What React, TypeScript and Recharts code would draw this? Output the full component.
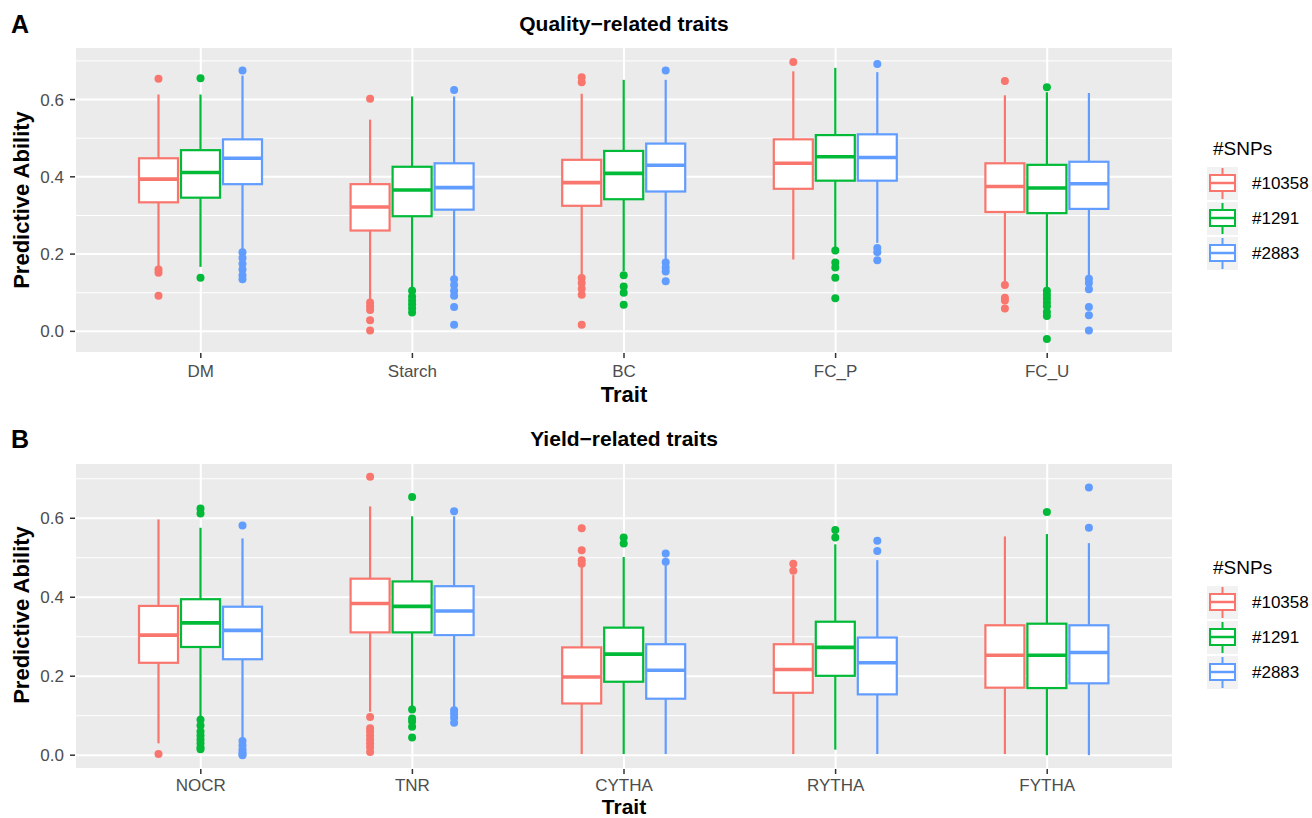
import React from "react";
import { ComposedChart, Bar, XAxis, YAxis, CartesianGrid } from "recharts";

const seriesNames = ["#10358", "#1291", "#2883"];
const seriesColors = ["#F8766D", "#00BA38", "#619CFF"];

// box stats per trait: [lower whisker, Q1, median, Q3, upper whisker]
const qualityTraits = ["DM", "Starch", "BC", "FC_P", "FC_U"];
const quality10358 = [
  [0.167, 0.334, 0.394, 0.448, 0.613],
  [0.079, 0.261, 0.322, 0.381, 0.548],
  [0.143, 0.325, 0.385, 0.444, 0.615],
  [0.186, 0.369, 0.435, 0.497, 0.673],
  [0.13, 0.309, 0.375, 0.435, 0.611],
];
const quality10358Out = [
  [0.654, 0.16, 0.152, 0.092],
  [0.602, 0.075, 0.065, 0.055, 0.029, 0.002],
  [0.658, 0.645, 0.138, 0.125, 0.11, 0.095, 0.017],
  [0.697],
  [0.648, 0.12, 0.087, 0.08, 0.059],
];
const quality1291 = [
  [0.167, 0.346, 0.411, 0.469, 0.613],
  [0.111, 0.298, 0.366, 0.426, 0.608],
  [0.156, 0.342, 0.409, 0.467, 0.651],
  [0.216, 0.39, 0.452, 0.508, 0.682],
  [0.113, 0.306, 0.371, 0.431, 0.619],
];
const quality1291Out = [
  [0.655, 0.139],
  [0.105, 0.09, 0.08, 0.07, 0.06, 0.049],
  [0.145, 0.116, 0.1, 0.069],
  [0.209, 0.178, 0.165, 0.139, 0.086],
  [0.632, 0.105, 0.095, 0.085, 0.075, 0.065, 0.05, 0.04, -0.02],
];
const quality2883 = [
  [0.212, 0.381, 0.448, 0.497, 0.662],
  [0.139, 0.315, 0.372, 0.435, 0.608],
  [0.186, 0.362, 0.43, 0.486, 0.651],
  [0.229, 0.39, 0.45, 0.51, 0.671],
  [0.143, 0.317, 0.382, 0.439, 0.617],
];
const quality2883Out = [
  [0.675, 0.205, 0.19, 0.175, 0.16, 0.145, 0.135],
  [0.625, 0.135, 0.12, 0.105, 0.092, 0.063, 0.017],
  [0.675, 0.178, 0.165, 0.155, 0.13],
  [0.692, 0.216, 0.205, 0.184],
  [0.136, 0.125, 0.109, 0.063, 0.042, 0.002],
];

const yieldTraits = ["NOCR", "TNR", "CYTHA", "RYTHA", "FYTHA"];
const yield10358 = [
  [0.03, 0.234, 0.304, 0.378, 0.597],
  [0.11, 0.311, 0.384, 0.447, 0.63],
  [0.003, 0.131, 0.198, 0.273, 0.481],
  [0.003, 0.158, 0.217, 0.281, 0.456],
  [0.003, 0.171, 0.253, 0.329, 0.554],
];
const yield10358Out = [
  [0.003],
  [0.705, 0.097, 0.068, 0.06, 0.05, 0.04, 0.03, 0.02, 0.008],
  [0.575, 0.519, 0.494, 0.485],
  [0.485, 0.467],
  [],
];
const yield1291 = [
  [0.097, 0.274, 0.335, 0.395, 0.576],
  [0.122, 0.311, 0.377, 0.44, 0.605],
  [0.003, 0.186, 0.256, 0.323, 0.502],
  [0.014, 0.201, 0.273, 0.338, 0.534],
  [0.0, 0.17, 0.253, 0.333, 0.56],
];
const yield1291Out = [
  [0.625, 0.612, 0.09, 0.075, 0.06, 0.05, 0.04, 0.03, 0.02, 0.015],
  [0.654, 0.116, 0.093, 0.085, 0.072, 0.045],
  [0.551, 0.536],
  [0.57, 0.551],
  [0.616],
];
const yield2883 = [
  [0.042, 0.243, 0.316, 0.376, 0.549],
  [0.118, 0.304, 0.365, 0.428, 0.605],
  [0.003, 0.143, 0.215, 0.281, 0.481],
  [0.003, 0.154, 0.234, 0.298, 0.494],
  [0.0, 0.182, 0.26, 0.329, 0.537],
];
const yield2883Out = [
  [0.582, 0.036, 0.025, 0.015, 0.008, 0.003, 0.0],
  [0.618, 0.114, 0.105, 0.095, 0.082],
  [0.511, 0.49],
  [0.543, 0.517],
  [0.678, 0.576],
];

const yTicks = [0, 0.2, 0.4, 0.6];
const minorTicks = [0.1, 0.3, 0.5, 0.7];
const FONT = "'Liberation Sans', Arial, sans-serif";

function buildRows(traits: string[], stats: number[][][], outs: number[][][]) {
  return traits.map((trait, i) => {
    const row: any = { trait };
    stats.forEach((s, k) => {
      const all = [...s[i], ...outs[k][i]];
      row[`s${k}`] = s[i];
      row[`o${k}`] = outs[k][i];
      row[`r${k}`] = [Math.min(...all), Math.max(...all)];
    });
    return row;
  });
}

const qualityRows = buildRows(
  qualityTraits,
  [quality10358, quality1291, quality2883],
  [quality10358Out, quality1291Out, quality2883Out]
);
const yieldRows = buildRows(
  yieldTraits,
  [yield10358, yield1291, yield2883],
  [yield10358Out, yield1291Out, yield2883Out]
);

function BoxShape(props: any) {
  const { x, y, width, height, payload, k } = props;
  const [lo, hi] = payload[`r${k}`];
  const [wLo, q1, med, q3, wHi] = payload[`s${k}`];
  const outs: number[] = payload[`o${k}`];
  const color = seriesColors[k];
  // the bar spans [lo, hi] in the y scale, so map values linearly inside it
  const toY = (v: number) => y + ((hi - v) / (hi - lo)) * height;
  const cx = x + width / 2;
  return (
    <g>
      <line x1={cx} x2={cx} y1={toY(wHi)} y2={toY(q3)} stroke={color} strokeWidth={2.2} />
      <line x1={cx} x2={cx} y1={toY(q1)} y2={toY(wLo)} stroke={color} strokeWidth={2.2} />
      <rect
        x={x}
        y={toY(q3)}
        width={width}
        height={toY(q1) - toY(q3)}
        fill="#FFFFFF"
        stroke={color}
        strokeWidth={2.2}
      />
      <line x1={x} x2={x + width} y1={toY(med)} y2={toY(med)} stroke={color} strokeWidth={3.6} />
      {outs.map((v, j) => (
        <circle key={j} cx={cx} cy={toY(v)} r={4} fill={color} />
      ))}
    </g>
  );
}

function Panel({
  rows,
  domain,
  top,
  tickGap,
}: {
  rows: any[];
  domain: number[];
  top: number;
  tickGap: number;
}) {
  return (
    <div style={{ position: "absolute", left: 0, top: 0 }}>
      <ComposedChart
        width={1312}
        height={top + 306 + 57}
        data={rows}
        margin={{ top, right: 139, bottom: 0, left: 0 }}
        barSize={39}
        barGap={3}
      >
        <CartesianGrid
          fill="#EBEBEB"
          stroke="#FFFFFF"
          strokeWidth={1}
          vertical={false}
          horizontalValues={minorTicks}
        />
        <CartesianGrid stroke="#FFFFFF" strokeWidth={2} />
        <XAxis
          dataKey="trait"
          padding={{ left: 20, right: 20 }}
          axisLine={false}
          tickSize={5}
          tickMargin={tickGap}
          height={57}
          tickLine={{ stroke: "#333333", strokeWidth: 1.5 }}
          tick={{ fill: "#4D4D4D", fontSize: 17, fontFamily: FONT }}
          interval={0}
        />
        <YAxis
          type="number"
          domain={domain}
          ticks={yTicks}
          allowDataOverflow
          width={75}
          axisLine={false}
          tickSize={5}
          tickMargin={6}
          tickLine={{ stroke: "#333333", strokeWidth: 1.5 }}
          tick={{ fill: "#4D4D4D", fontSize: 17, fontFamily: FONT }}
          tickFormatter={(v: number) => v.toFixed(1)}
        />
        {seriesNames.map((name, k) => (
          <Bar
            key={name}
            name={name}
            dataKey={`r${k}`}
            isAnimationActive={false}
            shape={(p: any) => <BoxShape {...p} k={k} />}
          />
        ))}
      </ComposedChart>
    </div>
  );
}

function LegendBlock({ top }: { top: number }) {
  return (
    <g>
      <text x={1213} y={top} fontSize={19} fontFamily={FONT} fill="#000">
        #SNPs
      </text>
      {seriesNames.map((name, k) => {
        const ky = top + 12 + k * 35;
        const c = seriesColors[k];
        return (
          <g key={name}>
            <rect x={1207} y={ky} width={31} height={33} fill="#F2F2F2" />
            <line x1={1222.5} x2={1222.5} y1={ky + 1} y2={ky + 32} stroke={c} strokeWidth={2} />
            <rect x={1210} y={ky + 8} width={25} height={16} fill="#FFFFFF" stroke={c} strokeWidth={2} />
            <line x1={1210} x2={1235} y1={ky + 16} y2={ky + 16} stroke={c} strokeWidth={2.5} />
            <text x={1252} y={ky + 22} fontSize={17} fontFamily={FONT} fill="#000">
              {name}
            </text>
          </g>
        );
      })}
    </g>
  );
}

function Annotations() {
  return (
    <svg
      width={1312}
      height={818}
      style={{ position: "absolute", left: 0, top: 0, pointerEvents: "none" }}
    >
      <text x={11} y={33} fontSize={25} fontWeight="bold" fontFamily={FONT}>A</text>
      <text x={624} y={31} fontSize={21} fontWeight="bold" fontFamily={FONT} textAnchor="middle">
        Quality−related traits
      </text>
      <text x={624} y={402} fontSize={22} fontWeight="bold" fontFamily={FONT} textAnchor="middle">
        Trait
      </text>
      <text
        transform="translate(29,200) rotate(-90)"
        fontSize={22}
        fontWeight="bold"
        fontFamily={FONT}
        textAnchor="middle"
      >
        Predictive Ability
      </text>
      <LegendBlock top={155} />

      <text x={11} y={448} fontSize={25} fontWeight="bold" fontFamily={FONT}>B</text>
      <text x={624} y={446} fontSize={21} fontWeight="bold" fontFamily={FONT} textAnchor="middle">
        Yield−related traits
      </text>
      <text x={624} y={814} fontSize={21} fontWeight="bold" fontFamily={FONT} textAnchor="middle">
        Trait
      </text>
      <text
        transform="translate(29,615) rotate(-90)"
        fontSize={22}
        fontWeight="bold"
        fontFamily={FONT}
        textAnchor="middle"
      >
        Predictive Ability
      </text>
      <LegendBlock top={574} />
    </svg>
  );
}

export default function App() {
  return (
    <div
      style={{
        position: "absolute",
        left: 0,
        top: 0,
        width: 1312,
        height: 818,
        background: "#FFFFFF",
        overflow: "hidden",
      }}
    >
      <div style={{ position: "absolute", left: 0, top: 0 }}>
        <Panel rows={qualityRows} domain={[-0.056, 0.736]} top={47} tickGap={7} />
      </div>
      <div style={{ position: "absolute", left: 0, top: 415 }}>
        <Panel rows={yieldRows} domain={[-0.035, 0.74]} top={48} tickGap={5} />
      </div>
      <Annotations />
    </div>
  );
}
